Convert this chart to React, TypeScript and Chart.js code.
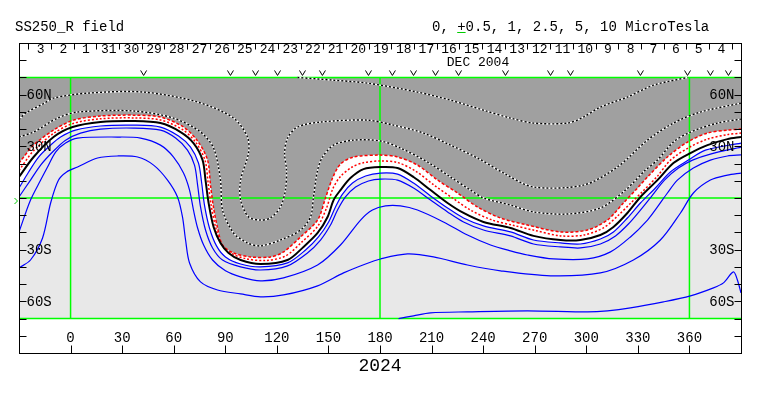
import React, { useEffect, useRef } from 'react';
import { Chart, registerables } from 'chart.js';

Chart.register(...registerables);

type Pt = [number, number];

// Contours: [Carrington longitude, latitude]
const neutralLine: Pt[] = [[-30,12.2],[-21.5,23.8],[-9.9,35.4],[1.2,41.2],[17.4,44.1],[36.6,44.7],[52.3,43.5],[64.0,38.3],[71.5,31.9],[76.8,22.0],[78.5,10.4],[80.3,-2.9],[83.2,-16.8],[87.2,-26.1],[91.9,-31.9],[98.9,-36.0],[110.5,-38.3],[126.2,-36.0],[135.5,-28.4],[143.7,-20.3],[149.5,-11.0],[153.0,-1.2],[157.0,4.6],[162.8,11.6],[170.4,16.8],[180.3,18.0],[190.2,17.4],[199.5,12.2],[209.4,4.6],[219.3,-2.9],[228.6,-8.7],[240.2,-13.9],[255.9,-17.4],[269.3,-22.0],[285.0,-24.4],[296.6,-24.4],[308.2,-21.5],[315.8,-16.8],[323.9,-8.7],[331.5,0.6],[341.4,10.4],[350.7,20.3],[360.6,26.1],[370.5,30.7],[382.1,34.2],[390,35.4]];

const redOuter: Pt[] = [[-30,20.3],[-21.5,30.7],[-9.9,39.4],[1.7,45.2],[17.4,47.6],[36.6,48.1],[52.3,47.0],[65.7,41.2],[73.9,33.1],[79.7,22.0],[81.4,7.5],[83.2,-5.8],[85.5,-17.4],[88.4,-27.3],[94.8,-31.9],[104.7,-34.2],[116.3,-34.2],[123.9,-31.3],[133.8,-22.6],[143.7,-12.8],[148.3,0],[152.4,11.6],[157.0,19.7],[164.6,23.8],[180.3,24.9],[190.2,23.8],[201.8,19.1],[213.5,10.4],[225.1,2.9],[236.7,-5.2],[250.1,-11.6],[265.8,-15.7],[285.0,-19.7],[300.7,-18.6],[312.3,-12.8],[321.6,-2.9],[329.8,5.8],[335.6,12.2],[347.2,23.8],[358.9,32.5],[370.5,37.7],[382.1,39.4],[390,40.0]];

const redInner: Pt[] = [[-30,16.0],[-21.5,27.5],[-9.9,37.5],[1.5,43.3],[17.4,46.0],[36.6,46.5],[52.3,45.3],[65.0,39.8],[72.7,32.5],[78.2,22.0],[80.0,9.0],[81.8,-4.3],[84.4,-17.0],[87.8,-26.8],[93.3,-32.0],[101.8,-35.2],[113.4,-36.3],[125.0,-33.7],[134.6,-25.5],[143.7,-16.5],[148.9,-5.8],[152.6,5.5],[157.0,12.5],[163.8,18.0],[170.4,20.5],[180.3,21.5],[190.2,20.6],[200.6,15.7],[211.4,7.5],[222.2,0],[232.6,-7.0],[245.0,-12.7],[258.0,-16.0],[270.0,-18.8],[285.0,-22.0],[298.6,-21.5],[310.2,-17.2],[318.7,-10.0],[325.8,-3.0],[332.5,3.5],[341.4,12.7],[349.0,22.0],[359.7,29.3],[370.5,34.2],[382.1,36.8],[390,37.7]];

const neg1: Pt[] = [[-30,5.8],[-24.4,15.1],[-18.6,23.8],[-11.6,30.7],[-5.8,35.4],[2.9,39.4],[17.4,41.8],[36.6,42.3],[52.3,41.2],[62.8,36.0],[69.8,29.6],[74.4,20.3],[76.2,9.3],[77.9,-4.1],[80.8,-17.4],[84.9,-27.8],[90.1,-34.2],[98.9,-38.3],[110.5,-40.0],[126.2,-37.7],[136.7,-30.2],[144.2,-22.6],[150.1,-13.9],[154.1,-5.2],[158.2,2.3],[164.0,8.7],[171.6,12.8],[180.3,14.5],[190.2,13.9],[199.5,8.7],[209.4,1.2],[219.3,-5.8],[228.6,-11.6],[240.2,-16.2],[255.9,-19.7],[269.3,-24.4],[285.0,-26.1],[296.6,-26.7],[308.2,-23.8],[315.8,-19.7],[323.9,-11.6],[331.5,-2.9],[340.2,5.8],[348.9,15.1],[359.4,22.0],[369.3,27.8],[390,31.9]];

const neg2: Pt[] = [[-30,0.6],[-23.3,10.4],[-17.4,19.1],[-10.5,26.7],[-2.9,33.6],[5.8,37.7],[17.4,40.0],[36.6,40.6],[52.3,39.4],[61.1,34.8],[68.0,27.8],[72.1,19.1],[73.9,7.5],[75.6,-5.2],[78.5,-18.6],[82.6,-29.0],[88.4,-36.0],[98.9,-40.0],[110.5,-41.8],[126.2,-39.4],[137.8,-31.9],[145.4,-24.4],[151.2,-15.7],[155.3,-7.0],[159.9,0.6],[165.8,6.4],[173.3,9.9],[180.3,11.0],[190.2,10.4],[199.5,5.8],[209.4,-1.2],[219.3,-8.1],[228.6,-13.9],[240.2,-18.6],[255.9,-22.0],[269.3,-26.7],[285.0,-28.4],[296.6,-29.0],[308.2,-26.7],[317.0,-22.0],[324.5,-15.1],[331.5,-7.0],[338.5,1.7],[345.5,10.4],[353.6,17.4],[361.8,22.0],[372.2,25.5],[390,29.6]];

const neg3: Pt[] = [[-30,-19.7],[-23.3,-1.2],[-17.4,10.4],[-13.4,18.0],[-8.7,26.7],[-2.9,31.9],[4.1,34.8],[27.3,35.4],[40.7,34.8],[52.3,30.7],[59.9,23.8],[65.7,14.5],[69.2,4.6],[71.5,-7.0],[73.9,-17.4],[77.4,-27.3],[82.6,-36.0],[90.1,-42.3],[98.9,-45.8],[110.5,-48.1],[123.9,-46.4],[143.7,-38.9],[157.0,-27.3],[168.7,-12.8],[175.6,-7.0],[183.2,-4.6],[191.9,-4.6],[201.8,-7.0],[216.9,-13.9],[230.9,-21.5],[244.3,-27.3],[255.9,-30.7],[265.8,-33.1],[280.9,-35.4],[300.7,-35.4],[314.1,-31.3],[325.7,-22.6],[335.6,-12.8],[341.4,-5.2],[347.2,2.9],[353.0,10.4],[362.3,17.4],[372.2,22.0],[382.1,24.4],[390,25.0]];

const neg4: Pt[] = [[-30,-40.6],[-23.3,-36.0],[-16.3,-23.2],[-11.6,-2.9],[-7.0,10.4],[-2.3,15.1],[4.1,18.0],[15.7,23.2],[27.3,24.4],[39.0,23.8],[48.3,19.1],[56.4,10.4],[62.2,0.6],[65.1,-11.0],[66.9,-24.4],[69.2,-37.7],[75.6,-48.7],[85.5,-53.4],[98.9,-55.7],[110.5,-57.4],[123.9,-56.3],[143.7,-51.0],[158.8,-43.5],[171.6,-38.3],[180.3,-35.4],[196.0,-32.5],[211.1,-34.2],[230.9,-38.9],[250.1,-42.3],[279.2,-45.2],[308.2,-43.5],[327.4,-36.0],[343.1,-24.4],[354.8,-8.7],[362.3,2.9],[372.2,10.4],[382.1,13.3],[390,14.5]];

const neg5: Pt[] = [[190.8,-70],[199.5,-68.4],[209.4,-66.7],[230.9,-66.1],[265.8,-65.5],[300.7,-66.1],[312.3,-65.5],[325.7,-63.8],[344.9,-60.3],[360.6,-56.8],[374.0,-52.2],[379.8,-49.3],[385.6,-42.9],[387.9,-47.6],[390,-55.1]];

const pos1: Pt[] = [[-30,35.4],[-21.5,38.3],[-7.6,46.4],[4.1,49.9],[36.6,50.5],[59.9,46.4],[75.6,38.3],[83.2,29.0],[87.2,10.4],[88.4,-7.0],[94.8,-20.3],[102.9,-26.1],[110.5,-27.8],[122.1,-24.4],[133.8,-18.6],[139.6,-11.0],[141.3,0.6],[143.7,16.2],[146.6,23.8],[153.0,30.7],[164.6,33.6],[180.3,33.1],[191.9,29.0],[207.6,20.9],[221.0,12.2],[232.6,4.6],[240.2,0],[255.9,-4.1],[269.3,-8.1],[289.1,-9.3],[308.2,-5.8],[322.8,4.6],[334.4,16.2],[341.4,22.0],[350.7,32.5],[360.6,38.3],[376.3,43.5],[390,45.8]];

const pos2: Pt[] = [[-30,45.5],[-26.2,49.3],[-15.7,54.8],[-9.9,58.0],[9.9,60.9],[42.5,61.5],[73.9,55.7],[94.8,46.4],[102.9,35.4],[103.5,26.1],[98.9,10.4],[98.9,-1.2],[103.5,-11.0],[110.5,-12.8],[116.3,-11.6],[122.1,-5.2],[125.0,4.6],[125.6,16.2],[124.5,26.1],[126.2,34.8],[132.0,41.2],[145.4,44.1],[172.7,45.2],[187.9,42.3],[205.3,37.7],[221.0,30.7],[236.7,23.2],[253.0,13.9],[269.3,6.4],[298.4,7.5],[318.1,18.0],[335.6,33.6],[350.7,43.5],[366.4,49.9],[390,55.1]];

const pos3: Pt[] = [[132.0,70],[153.0,68.4],[172.7,66.7],[201.8,61.5],[221.0,56.8],[240.2,51.0],[255.9,46.4],[269.3,43.5],[289.1,43.5],[298.4,47.0],[308.2,52.8],[323.9,58.6],[339.1,65.5],[358.9,70]];

// Axes / annotations
const xTickValues = [0, 30, 60, 90, 120, 150, 180, 210, 240, 270, 300, 330, 360];
const latTickValues = [-80, -70, -60, -50, -40, -30, -20, -10, 0, 10, 20, 30, 40, 50, 60, 70, 80];
const latLabelValues = [60, 30, -30, -60];
const latLabelTexts = ['60N', '30N', '30S', '60S'];
const dayLabels = [3, 2, 1, 31, 30, 29, 28, 27, 26, 25, 24, 23, 22, 21, 20, 19, 18, 17, 16, 15, 14, 13, 12, 11, 10, 9, 8, 7, 6, 5, 4];
const firstDayLon = -18;
const dayStep = 13.2;
const obsLons = [42.5, 93.0, 107.6, 120.4, 134.9, 146.5, 173.3, 187.2, 199.5, 212.3, 225.7, 253.0, 279.2, 290.8, 331.5, 358.9, 372.2, 382.7];
const gridLons = [0, 180, 360];
const gridLats = [-70, 0, 70];

const FONT = '"Liberation Mono", "Courier New", monospace';
const SMOOTH = 0.3;
const xy = (pts: Pt[]) => pts.map(([x, y]) => ({ x, y }));

function contour(pts: Pt[], color: string, width: number, dash: number[], order: number, tension = SMOOTH): any {
  return {
    data: xy(pts), borderColor: color, borderWidth: width, borderDash: dash,
    pointRadius: 0, pointHoverRadius: 0, fill: false, tension, order,
  };
}

function fillArea(pts: Pt[], color: string, order: number): any {
  return {
    data: xy(pts), borderColor: 'rgba(0,0,0,0)', borderWidth: 0, backgroundColor: color,
    pointRadius: 0, fill: { value: 70 }, tension: SMOOTH, order,
  };
}

const datasets: any[] = [
  fillArea(neg1, '#ffffff', 100),
  fillArea(redOuter, '#a0a0a0', 99),
  ...gridLons.map((v) => contour([[v, -70], [v, 70]], '#00ff00', 1.5, [], 50, 0)),
  ...gridLats.map((v) => contour([[-30, v], [390, v]], '#00ff00', 1.5, [], 50, 0)),
  contour(neg5, '#0000ff', 1.2, [], 30),
  contour(neg4, '#0000ff', 1.2, [], 30),
  contour(neg3, '#0000ff', 1.2, [], 30),
  contour(neg2, '#0000ff', 1.2, [], 30),
  contour(neg1, '#0000ff', 1.2, [], 30),
  contour(pos1, '#ffffff', 1.4, [], 25),
  contour(pos2, '#ffffff', 1.4, [], 25),
  contour(pos3, '#ffffff', 1.4, [], 25),
  contour(pos1, '#000000', 1.4, [2, 2], 24),
  contour(pos2, '#000000', 1.4, [2, 2], 24),
  contour(pos3, '#000000', 1.4, [2, 2], 24),
  contour(redOuter, '#ff0000', 1.5, [3, 2], 20),
  contour(redInner, '#ff0000', 1.5, [2, 2], 20),
  contour(neutralLine, '#000000', 2, [], 10),
];

const decorPlugin: any = {
  id: 'decor',
  beforeDatasetsDraw(chart: any) {
    const { ctx } = chart;
    const xs = chart.scales.x, ys = chart.scales.y;
    const l = xs.getPixelForValue(-30), r = xs.getPixelForValue(390);
    const t = ys.getPixelForValue(70), b = ys.getPixelForValue(-70);
    ctx.save();
    ctx.fillStyle = '#e8e8e8';
    ctx.fillRect(l, t, r - l, b - t);
    ctx.restore();
  },
  afterDatasetsDraw(chart: any) {
    const { ctx } = chart;
    const xs = chart.scales.x, ys = chart.scales.y;
    const L = Math.round(xs.getPixelForValue(-30)) + 0.5;
    const R = Math.round(xs.getPixelForValue(390)) + 0.5;
    const T = Math.round(ys.getPixelForValue(90)) + 0.5;
    const B = Math.round(ys.getPixelForValue(-90)) + 0.5;
    ctx.save();
    ctx.strokeStyle = '#000';
    ctx.lineWidth = 1;
    ctx.strokeRect(L, T, R - L, B - T);
    ctx.beginPath();
    latTickValues.forEach((v) => {
      const py = Math.round(ys.getPixelForValue(v)) + 0.5;
      ctx.moveTo(L, py); ctx.lineTo(L + 7, py);
      ctx.moveTo(R - 7, py); ctx.lineTo(R, py);
    });
    xTickValues.forEach((v) => {
      const px = Math.round(xs.getPixelForValue(v)) + 0.5;
      ctx.moveTo(px, B); ctx.lineTo(px, B - 8);
    });
    dayLabels.forEach((_, i) => {
      const px = Math.round(xs.getPixelForValue(firstDayLon + i * dayStep - dayStep / 2)) + 0.5;
      ctx.moveTo(px, T); ctx.lineTo(px, T + 6);
    });
    {
      const px = Math.round(xs.getPixelForValue(firstDayLon + (dayLabels.length - 0.5) * dayStep)) + 0.5;
      ctx.moveTo(px, T); ctx.lineTo(px, T + 6);
    }
    // observation markers
    const vy = ys.getPixelForValue(70) - 5;
    obsLons.forEach((v) => {
      const px = xs.getPixelForValue(v);
      ctx.moveTo(px - 3, vy - 2); ctx.lineTo(px, vy + 3); ctx.lineTo(px + 3, vy - 2);
    });
    ctx.stroke();

    // equator marker
    ctx.strokeStyle = '#00cc00';
    ctx.beginPath();
    const eq = ys.getPixelForValue(0) + 3;
    ctx.moveTo(L - 5, eq - 3); ctx.lineTo(L - 2, eq); ctx.lineTo(L - 5, eq + 3);
    ctx.stroke();

    ctx.fillStyle = '#000';
    ctx.textBaseline = 'middle';
    ctx.font = `14px ${FONT}`;
    ctx.textAlign = 'left';
    latLabelValues.forEach((v, i) => {
      ctx.fillText(latLabelTexts[i], L + 7, ys.getPixelForValue(v) + 1);
    });
    ctx.textAlign = 'right';
    latLabelValues.forEach((v, i) => {
      ctx.fillText(latLabelTexts[i], R - 7, ys.getPixelForValue(v) + 1);
    });
    ctx.textAlign = 'center';
    xTickValues.forEach((v) => {
      ctx.fillText(String(v), xs.getPixelForValue(v), B - 15);
    });
    ctx.font = `13px ${FONT}`;
    dayLabels.forEach((d, i) => {
      ctx.fillText(String(d), xs.getPixelForValue(firstDayLon + i * dayStep) + 1, T + 6);
    });
    ctx.fillText('DEC 2004', xs.getPixelForValue(237), T + 19);

    // header texts
    ctx.font = `14px ${FONT}`;
    ctx.textAlign = 'left';
    ctx.fillText('SS250_R field', 15, 27);
    const legend = '0, +0.5, 1, 2.5, 5, 10 MicroTesla';
    const lx = 432;
    ctx.fillText(legend, lx, 27);
    const w0 = ctx.measureText('0, ').width;
    const wp = ctx.measureText('+').width;
    ctx.beginPath();
    ctx.moveTo(lx + w0, 32.5); ctx.lineTo(lx + w0 + wp, 32.5);
    ctx.stroke();

    ctx.font = `18px ${FONT}`;
    ctx.textAlign = 'center';
    ctx.fillText('2024', xs.getPixelForValue(180), 366);
    ctx.restore();
  },
};

export default function App() {
  const ref = useRef<HTMLCanvasElement>(null);
  useEffect(() => {
    const chart = new Chart(ref.current as HTMLCanvasElement, {
      type: 'line',
      data: { datasets },
      options: {
        animation: false,
        responsive: false,
        devicePixelRatio: 1,
        events: [],
        layout: { padding: { left: 19, right: 22, top: 43, bottom: 43 } },
        scales: {
          x: { type: 'linear', min: -30, max: 390, display: false },
          y: { type: 'linear', min: -90, max: 90, display: false },
        },
        plugins: { legend: { display: false }, tooltip: { enabled: false } },
      } as any,
      plugins: [decorPlugin],
    });
    return () => chart.destroy();
  }, []);
  return (
    <div style={{ position: 'fixed', left: 0, top: 0, width: 763, height: 396, background: '#fff' }}>
      <canvas ref={ref} width={763} height={396} style={{ display: 'block', width: 763, height: 396 }} />
    </div>
  );
}
